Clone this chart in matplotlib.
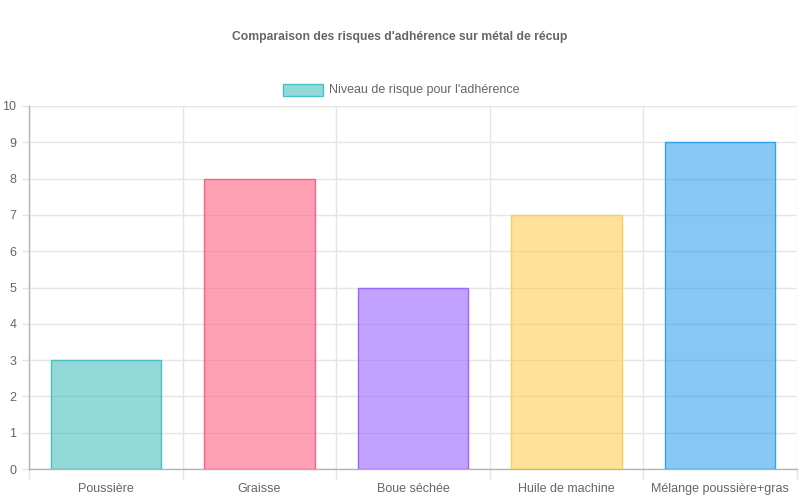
import matplotlib
matplotlib.use('Agg')
import matplotlib.pyplot as plt
from matplotlib.patches import Rectangle

categories = ['Poussière', 'Graisse', 'Boue séchée', 'Huile de machine', 'Mélange poussière+gras']
risk = [3, 8, 5, 7, 9]
fill_colors = [(75/255, 192/255, 192/255, 0.6), (255/255, 99/255, 132/255, 0.6),
               (153/255, 102/255, 255/255, 0.6), (255/255, 206/255, 86/255, 0.6),
               (54/255, 162/255, 235/255, 0.6)]
edge_colors = ['#4bc0c0', '#ff6384', '#9966ff', '#ffce56', '#36a2eb']
title = "Comparaison des risques d'adhérence sur métal de récup"
legend_label = "Niveau de risque pour l'adhérence"

plt.rcParams['font.family'] = ['Liberation Sans', 'DejaVu Sans']

W, H = 800, 500
fig = plt.figure(figsize=(8, 5), dpi=100)
ax = fig.add_axes([29 / W, 31 / H, (797 - 29) / W, (469 - 106) / H])
ax.set_axisbelow(True)

x = list(range(len(categories)))
ax.bar(x, risk, width=0.72, color=fill_colors, edgecolor=edge_colors, linewidth=1, zorder=3)

ax.set_xlim(-0.5, len(categories) - 0.5)
ax.set_ylim(0, 10)
ax.set_yticks(range(0, 11))
ax.set_xticks(x)
ax.set_xticklabels(categories)
ax.set_xticks([i - 0.5 for i in range(len(categories) + 1)], minor=True)

grid_c = '#e5e5e5'
ax.grid(True, axis='y', which='major', color=grid_c, linewidth=1)
ax.grid(True, axis='x', which='minor', color=grid_c, linewidth=1)
ax.grid(False, axis='x', which='major')
ax.tick_params(axis='x', which='major', length=0, pad=10, labelsize=9, labelcolor='#666666')
ax.tick_params(axis='x', which='minor', length=7, color=grid_c, width=1)
ax.tick_params(axis='y', length=5, color=grid_c, width=1, pad=4, labelsize=9, labelcolor='#666666')

for s in ['top', 'right']:
    ax.spines[s].set_visible(False)
for s in ['left', 'bottom']:
    ax.spines[s].set_color('#b3b3b3')
    ax.spines[s].set_linewidth(1)

fig.text(400 / W, 1 - 37 / H, title, ha='center', va='center', fontsize=8.7,
         fontweight='bold', color='#666666')

fig.add_artist(Rectangle((283 / W, 1 - 96 / H), 40 / W, 12 / H, transform=fig.transFigure,
                         facecolor=fill_colors[0], edgecolor=edge_colors[0], linewidth=1))
fig.text(329 / W, 1 - 90 / H, legend_label, ha='left', va='center', fontsize=9, color='#666666')

fig.savefig('out.png', dpi=100)
